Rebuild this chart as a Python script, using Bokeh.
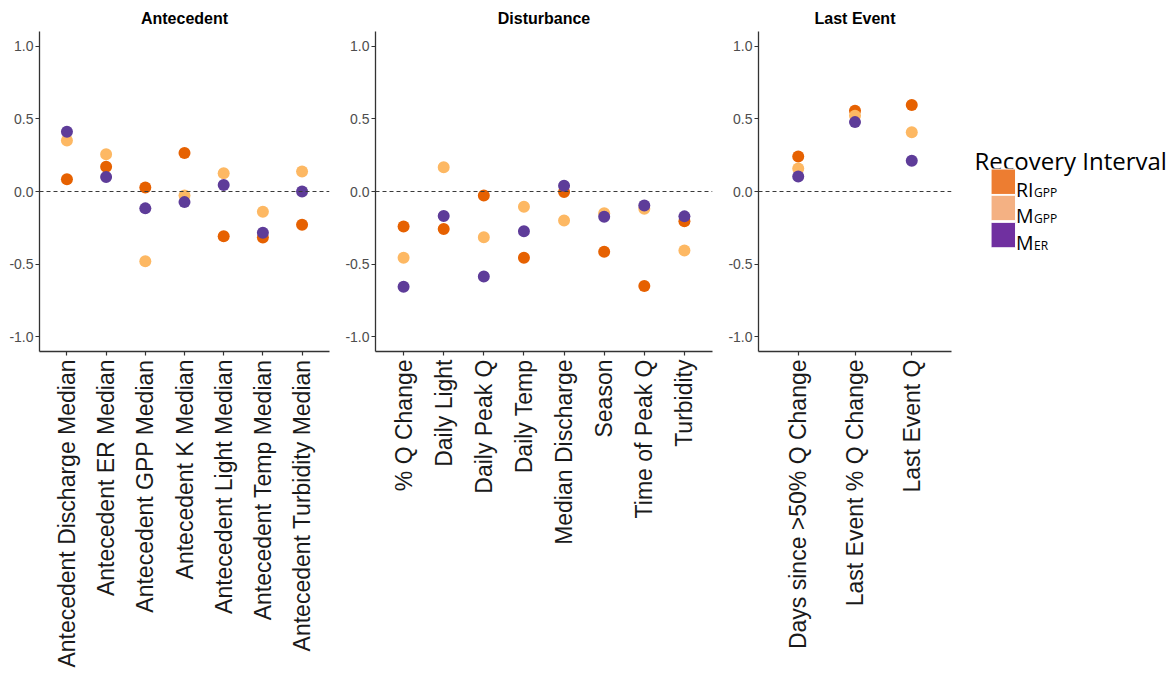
import math
from bokeh.plotting import figure
from bokeh.models import FactorRange, Range1d, FixedTicker, NumeralTickFormatter, Span
from bokeh.layouts import row
from bokeh.embed import file_html
from bokeh.resources import INLINE
from bokeh.core.properties import value

# ---------------- data ----------------
antecedent_cats = ["Antecedent Discharge Median", "Antecedent ER Median", "Antecedent GPP Median",
                   "Antecedent K Median", "Antecedent Light Median", "Antecedent Temp Median",
                   "Antecedent Turbidity Median"]
antecedent_ri_gpp = [0.085, 0.17, 0.027, 0.265, -0.308, -0.317, -0.228]
antecedent_m_gpp = [0.35, 0.256, -0.48, -0.027, 0.126, -0.139, 0.137]
antecedent_m_er = [0.41, 0.099, -0.116, -0.073, 0.044, -0.283, 0.0]

disturbance_cats = ["% Q Change", "Daily Light", "Daily Peak Q", "Daily Temp",
                    "Median Discharge", "Season", "Time of Peak Q", "Turbidity"]
disturbance_ri_gpp = [-0.24, -0.258, -0.027, -0.456, -0.004, -0.415, -0.65, -0.205]
disturbance_m_gpp = [-0.456, 0.167, -0.315, -0.105, -0.2, -0.15, -0.118, -0.406]
disturbance_m_er = [-0.655, -0.169, -0.584, -0.274, 0.039, -0.173, -0.096, -0.171]

last_cats = ["Days since >50% Q Change", "Last Event % Q Change", "Last Event Q"]
last_ri_gpp = [0.24, 0.555, 0.594]
last_m_gpp = [0.158, 0.52, 0.407]
last_m_er = [0.103, 0.477, 0.212]

panel_titles = ["Antecedent", "Disturbance", "Last Event"]
y_ticks = [-1.0, -0.5, 0.0, 0.5, 1.0]

legend_title = "Recovery Interval"
legend_main = ["RI", "M", "M"]
legend_sub = ["GPP", "GPP", "ER"]
point_colors = ["#E66101", "#FDB863", "#5E3C99"]
legend_colors = ["#ED7D31", "#F4B183", "#7030A0"]

FONT = "Liberation Sans"
H = 670
TOP = 31
BOTTOM = H - 352


def make_panel(title, cats, series, width, left):
    p = figure(x_range=FactorRange(factors=cats, range_padding=0.2, range_padding_units="absolute"),
               y_range=Range1d(-1.1, 1.1), width=width, height=H,
               output_backend="svg", toolbar_location=None,
               min_border_left=left, min_border_right=10, min_border_top=TOP,
               min_border_bottom=BOTTOM)
    p.title.text = title
    p.title.align = "center"
    p.title.text_font = FONT
    p.title.text_font_size = "16px"
    p.title.text_font_style = "bold"
    p.title.text_color = "black"
    p.title.standoff = 9
    p.grid.visible = False
    p.outline_line_color = None
    p.background_fill_color = "white"
    p.border_fill_color = "white"

    p.add_layout(Span(location=0, dimension="width", line_color="#3a3a3a",
                      line_dash="4 3", line_width=1.1))
    for vals, col in zip(series, point_colors):
        p.scatter(x=cats, y=vals, size=12, fill_color=col, line_color=None)

    for ax in (p.xaxis[0], p.yaxis[0]):
        ax.axis_line_color = "#333333"
        ax.axis_line_width = 1.3
        ax.major_tick_line_color = "#333333"
        ax.major_tick_line_width = 1.2
        ax.major_tick_out = 4
        ax.major_tick_in = 0
        ax.minor_tick_line_color = None
    xa = p.xaxis[0]
    xa.major_label_orientation = math.pi / 2
    xa.major_label_text_font = FONT
    xa.major_label_text_font_size = "23px"
    xa.major_label_text_color = "#1a1a1a"
    xa.major_label_standoff = 4
    ya = p.yaxis[0]
    ya.ticker = FixedTicker(ticks=y_ticks)
    ya.formatter = NumeralTickFormatter(format="0.0")
    ya.major_label_text_font = FONT
    ya.major_label_text_font_size = "14px"
    ya.major_label_text_color = "#4D4D4D"
    ya.major_label_standoff = 2
    return p


p1 = make_panel(panel_titles[0], antecedent_cats,
                [antecedent_ri_gpp, antecedent_m_gpp, antecedent_m_er], 339, 39)
p2 = make_panel(panel_titles[1], disturbance_cats,
                [disturbance_ri_gpp, disturbance_m_gpp, disturbance_m_er], 383, 36)
p3 = make_panel(panel_titles[2], last_cats,
                [last_ri_gpp, last_m_gpp, last_m_er], 239, 36)

# ---------------- legend (its frame is aligned with the panels' frames) ----------------
LX0 = 961
LW = 1174 - LX0
leg = figure(width=LW, height=H, x_range=Range1d(LX0, LX0 + LW), y_range=Range1d(352, TOP),
             x_axis_location=None, y_axis_location=None,
             output_backend="svg", toolbar_location=None,
             min_border_left=0, min_border_right=0,
             min_border_top=TOP, min_border_bottom=BOTTOM)
leg.grid.visible = False
leg.outline_line_color = None
leg.background_fill_color = "white"
leg.border_fill_color = "white"

leg.text(x=[974], y=[160], text=[legend_title], text_font=value("Open Sans"),
         text_font_size="24px", text_baseline="alphabetic", text_align="left", text_color="black")
sw_y = [181.7, 208.0, 235.2]
leg.rect(x=[1002.8] * 3, y=sw_y, width=24.5, height=25.5, fill_color=legend_colors,
         line_color="white", line_width=1)
leg.text(x=[1015.5] * 3, y=[y + 7.8 for y in sw_y], text=legend_main, text_font=value("Open Sans"),
         text_font_size="19.5px", text_baseline="alphabetic", text_align="left", text_color="black")
leg.text(x=[1033.5] * 3, y=[y + 10.8 for y in sw_y], text=legend_sub, text_font=value("Open Sans"),
         text_font_size="12px", text_baseline="alphabetic", text_align="left", text_color="black")

layout = row(p1, p2, p3, leg)
open("out.html", "w").write(file_html(layout, INLINE))
